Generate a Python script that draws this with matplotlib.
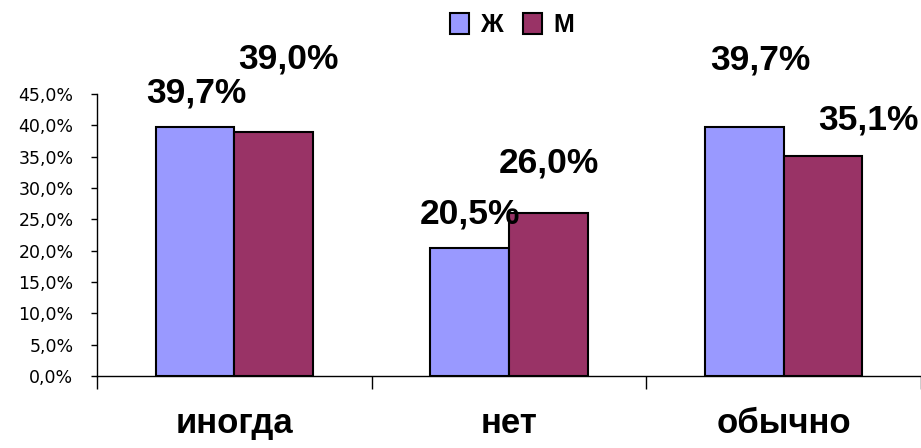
import matplotlib.pyplot as plt
import numpy as np
from matplotlib.ticker import FuncFormatter, MultipleLocator

categories = ["иногда", "нет", "обычно"]
series_names = ["Ж", "М"]
values_f = [39.7, 20.5, 39.7]
values_m = [39.0, 26.0, 35.1]

# label offsets from the top centre of each bar, in pixels
offsets_f = [(1, 34), (0, 34), (16, 67)]
offsets_m = [(15, 73), (0, 50), (45, 36)]

color_f = "#9999FF"
color_m = "#993366"
bar_w = 0.287

plt.rcParams["font.family"] = ["Liberation Sans", "DejaVu Sans"]

fig = plt.figure(figsize=(9.21, 4.48), dpi=100)
ax = fig.add_axes([97 / 921, 1 - 376 / 448, 1 - 97 / 921, (376 - 94) / 448])

x = np.arange(len(categories))
bars_f = ax.bar(x - bar_w / 2, values_f, bar_w, color=color_f, edgecolor="black",
                linewidth=1.5, label=series_names[0], zorder=2)
bars_m = ax.bar(x + bar_w / 2, values_m, bar_w, color=color_m, edgecolor="black",
                linewidth=1.5, label=series_names[1], zorder=2)

for bars, vals, offs in [(bars_f, values_f, offsets_f), (bars_m, values_m, offsets_m)]:
    for b, v, (dx, dy) in zip(bars, vals, offs):
        ax.annotate(f"{v:.1f}%".replace(".", ","),
                    xy=(b.get_x() + b.get_width() / 2, v),
                    xytext=(dx, dy), textcoords="offset pixels",
                    ha="center", va="center", fontsize=25.5, fontweight="bold",
                    zorder=5, annotation_clip=False)

ax.set_xlim(-0.5, len(categories) - 0.5)
ax.set_ylim(0, 45)

ax.yaxis.set_major_locator(MultipleLocator(5))
ax.yaxis.set_major_formatter(FuncFormatter(lambda v, p: f"{v:.1f}%".replace(".", ",")))
ax.tick_params(axis="y", direction="out", length=4, width=1, pad=13,
               labelsize=12.5, labelcolor="black")
for lab in ax.get_yticklabels():
    lab.set_fontfamily("DejaVu Sans")

# category boundaries carry the tick marks, centres carry the names
ax.set_xticks(np.arange(len(categories) + 1) - 0.5)
ax.set_xticklabels([])
ax.tick_params(axis="x", which="major", direction="out", length=9, width=1)
ax.set_xticks(x, minor=True)
ax.set_xticklabels(categories, minor=True, fontsize=25, fontweight="bold")
ax.tick_params(axis="x", which="minor", length=0, pad=22)

for side in ["top", "right"]:
    ax.spines[side].set_visible(False)
ax.spines["left"].set_linewidth(1)
ax.spines["bottom"].set_linewidth(1)
ax.set_facecolor("white")

leg = fig.legend(handles=[bars_f, bars_m], labels=series_names, loc="center",
                 bbox_to_anchor=(512 / 921, 1 - 25 / 448), ncol=2, frameon=False,
                 handlelength=0.75, handleheight=0.9, handletextpad=0.45,
                 columnspacing=0.8, prop={"size": 18, "weight": "bold"})

fig.savefig("out.png", dpi=100, facecolor="white")
